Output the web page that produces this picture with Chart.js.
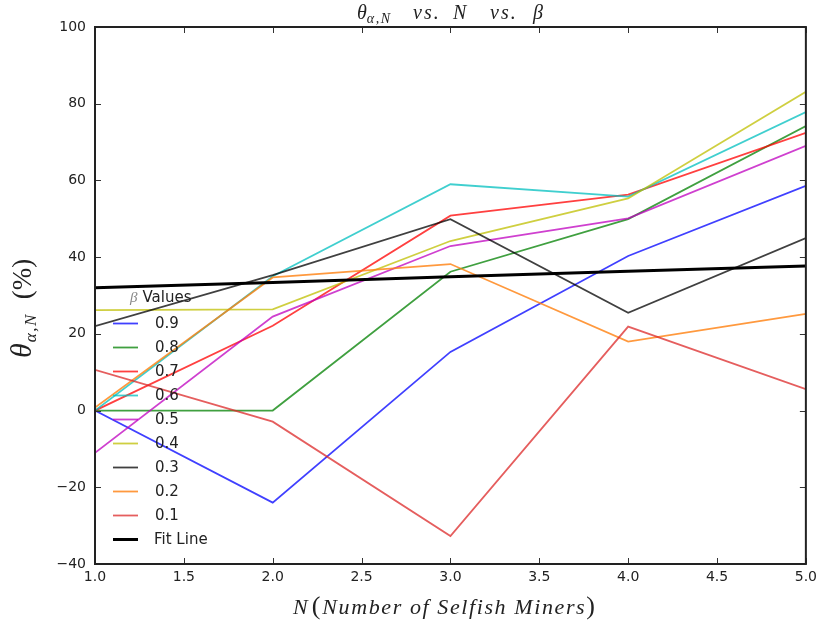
<!DOCTYPE html>
<html>
<head>
<meta charset="utf-8">
<script src="https://cdn.jsdelivr.net/npm/chart.js@4.4.1/dist/chart.umd.min.js"></script>
<style>
  html, body { margin: 0; padding: 0; background: #fff; }
  #wrap { width: 822px; height: 627px; }
</style>
</head>
<body>
<div id="wrap"><canvas id="thetaChart" width="822" height="627"></canvas></div>
<script>
// number of selfish miners on the x axis
const nValues = [1, 2, 3, 4, 5];

// theta (%) for each beta
const beta09 = [0, -24, 15.3, 40.3, 58.6];
const beta08 = [0, 0, 36.2, 49.9, 74.2];
const beta07 = [0, 22.1, 50.8, 56.3, 72.4];
const beta06 = [0, 35, 59, 55.8, 77.8];
const beta05 = [-11, 24.5, 42.9, 50.1, 69];
const beta04 = [26.2, 26.4, 44.2, 55.3, 83.1];
const beta03 = [22, 35.3, 49.9, 25.5, 45];
const beta02 = [0.8, 34.7, 38.2, 18, 25.2];
const beta01 = [10.6, -2.9, -32.7, 21.9, 5.6];
const fitLine = [32, 33.4, 34.9, 36.3, 37.7];

const seriesLabels = ["0.9", "0.8", "0.7", "0.6", "0.5", "0.4", "0.3", "0.2", "0.1", "Fit Line"];
const seriesValues = [beta09, beta08, beta07, beta06, beta05, beta04, beta03, beta02, beta01, fitLine];
const seriesColors = [
  "rgba(0,0,255,0.75)",
  "rgba(0,128,0,0.75)",
  "rgba(255,0,0,0.75)",
  "rgba(0,191,191,0.75)",
  "rgba(191,0,191,0.75)",
  "rgba(191,191,0,0.75)",
  "rgba(0,0,0,0.75)",
  "rgba(255,127,14,0.8)",
  "rgba(220,40,40,0.75)",
  "#000000"
];

const yTicks = [-40, -20, 0, 20, 40, 60, 80, 100];
const xTicks = [1.0, 1.5, 2.0, 2.5, 3.0, 3.5, 4.0, 4.5, 5.0];

const SERIF = "'Liberation Serif', 'DejaVu Serif', serif";
const SANS = "'DejaVu Sans', sans-serif";

const datasets = seriesLabels.map((label, i) => ({
  label,
  data: nValues.map((n, k) => ({ x: n, y: seriesValues[i][k] })),
  borderColor: seriesColors[i],
  backgroundColor: seriesColors[i],
  borderWidth: label === "Fit Line" ? 3 : 1.8,
  pointRadius: 0,
  tension: 0,
  fill: false,
  order: seriesLabels.length - i   // later series on top
}));

// draw a run of text pieces; a piece may carry its own x, dy and spacing
function drawPieces(c, pieces, x, y) {
  let cx = x;
  c.textAlign = "left";
  c.textBaseline = "alphabetic";
  pieces.forEach(p => {
    c.font = p.font;
    c.letterSpacing = p.spacing || "0px";
    c.fillStyle = p.color || "#222";
    if (p.x !== undefined) cx = x + p.x;
    c.fillText(p.text, cx, y + (p.dy || 0));
    cx += c.measureText(p.text).width + (p.gap || 0);
  });
  c.letterSpacing = "0px";
}

// frame, inward ticks, title and axis titles
const decorPlugin = {
  id: "decor",
  afterDraw(chart) {
    const c = chart.ctx;
    const a = chart.chartArea;
    const xs = chart.scales.x, ys = chart.scales.y;
    c.save();
    c.strokeStyle = "#333";
    c.lineWidth = 1;
    const tl = 6;
    c.beginPath();
    xTicks.forEach(v => {
      const px = Math.round(xs.getPixelForValue(v)) + 0.5;
      c.moveTo(px, a.bottom); c.lineTo(px, a.bottom - tl);
      c.moveTo(px, a.top); c.lineTo(px, a.top + tl);
    });
    yTicks.forEach(v => {
      const py = Math.round(ys.getPixelForValue(v)) + 0.5;
      c.moveTo(a.left, py); c.lineTo(a.left + tl, py);
      c.moveTo(a.right, py); c.lineTo(a.right - tl, py);
    });
    c.stroke();
    c.lineWidth = 2;
    c.strokeStyle = "#222";
    c.strokeRect(a.left, a.top, a.right - a.left, a.bottom - a.top);

    // title
    const tf = "italic 20px " + SERIF;
    drawPieces(c, [
      { text: "\u03B8", font: tf, x: 0 },
      { text: "\u03B1,N", font: "italic 14px " + SERIF, dy: 4, spacing: "1.5px" },
      { text: "vs.", font: tf, x: 56, spacing: "2px" },
      { text: "N", font: tf, x: 96 },
      { text: "vs.", font: tf, x: 133, spacing: "2px" },
      { text: "\u03B2", font: tf, x: 176 }
    ], 357, 19);

    // x axis title
    drawPieces(c, [
      { text: "N", font: "italic 22px " + SERIF, gap: 4 },
      { text: "(", font: "26px " + SERIF, gap: 2 },
      { text: "Number of Selfish Miners", font: "italic 22px " + SERIF, spacing: "1.6px" },
      { text: ")", font: "26px " + SERIF }
    ], 293, 614);

    // y axis title, reading upward from the bottom
    c.translate(31, 358);
    c.rotate(-Math.PI / 2);
    drawPieces(c, [
      { text: "\u03B8", font: "italic 30px " + SERIF, gap: 1 },
      { text: "\u03B1,N", font: "italic 17px " + SERIF, dy: 5, gap: 14, spacing: "1.5px" },
      { text: "(%)", font: "27px " + SERIF }
    ], 0, 0);
    c.restore();
  }
};

// legend drawn inside the plot, without a frame
const legendPlugin = {
  id: "innerLegend",
  afterDatasetsDraw(chart) {
    const c = chart.ctx;
    c.save();
    drawPieces(c, [
      { text: "\u03B2", font: "italic 15px " + SERIF, color: "#888", gap: 5 },
      { text: "Values", font: "15px " + SANS }
    ], 130, 302);
    chart.data.datasets.forEach((ds, i) => {
      const y = 323.5 + i * 24;
      c.strokeStyle = ds.borderColor;
      c.lineWidth = ds.borderWidth;
      c.beginPath();
      c.moveTo(113, y); c.lineTo(138, y);
      c.stroke();
      c.fillStyle = "#222";
      c.font = "15px " + SANS;
      c.textAlign = "left";
      c.textBaseline = "middle";
      c.fillText(ds.label, ds.label === "Fit Line" ? 154 : 155, y + 1);
    });
    c.restore();
  }
};

function tickText(v) {
  return v < 0 ? "\u2212" + Math.abs(v) : String(v);
}

new Chart(document.getElementById("thetaChart"), {
  type: "line",
  data: { datasets },
  options: {
    responsive: false,
    animation: false,
    layout: { padding: { left: 0, top: 27, right: 14, bottom: 0 } },
    plugins: { legend: { display: false }, title: { display: false }, tooltip: { enabled: false } },
    scales: {
      x: {
        type: "linear",
        min: 1, max: 5,
        afterFit(s) { s.height = 63; },
        afterBuildTicks(s) { s.ticks = xTicks.map(v => ({ value: v })); },
        grid: { display: false, drawTicks: false, tickLength: 0 },
        border: { display: false },
        ticks: {
          padding: 5,
          color: "#222",
          font: { family: SANS, size: 14 },
          callback: v => Number(v).toFixed(1)
        }
      },
      y: {
        type: "linear",
        min: -40, max: 100,
        afterFit(s) { s.width = 95; },
        afterBuildTicks(s) { s.ticks = yTicks.map(v => ({ value: v })); },
        grid: { display: false, drawTicks: false, tickLength: 0 },
        border: { display: false },
        ticks: {
          padding: 9,
          color: "#222",
          font: { family: SANS, size: 14 },
          callback: v => tickText(v)
        }
      }
    }
  },
  plugins: [decorPlugin, legendPlugin]
});
</script>
</body>
</html>
